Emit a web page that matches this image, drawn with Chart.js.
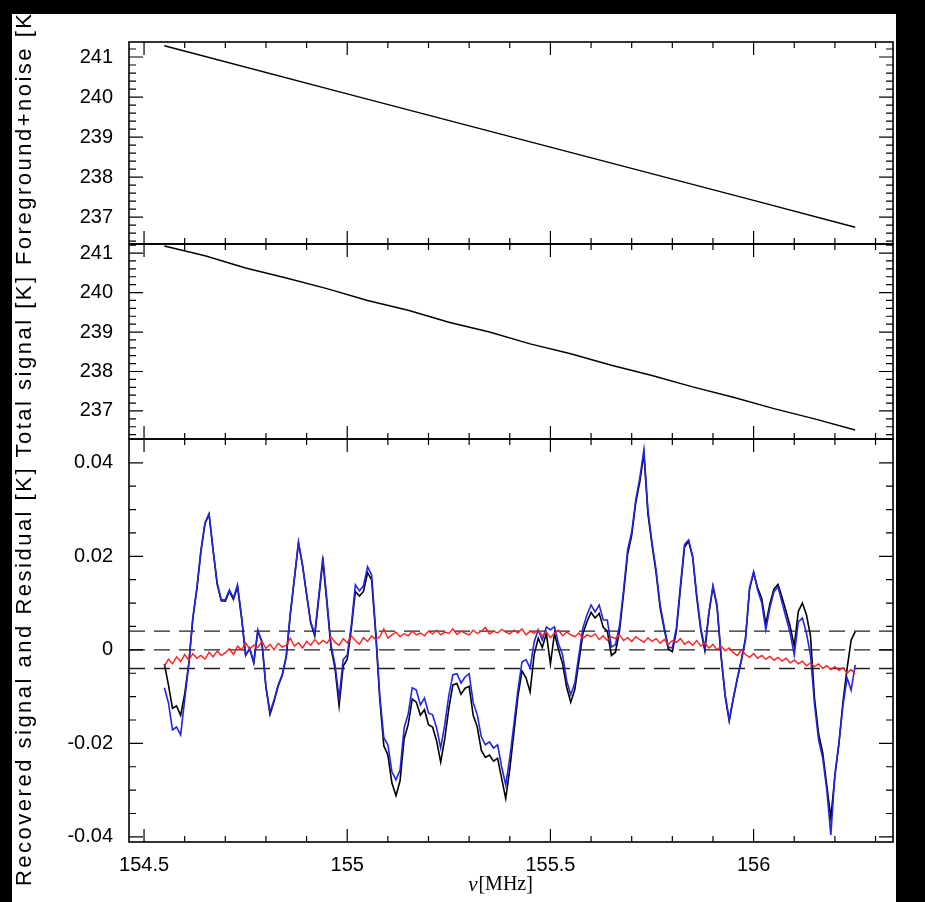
<!DOCTYPE html>
<html lang="en">
<head>
<meta charset="UTF-8" />
<title>Foreground, total signal and recovered signal</title>
<style>
  html, body { margin: 0; padding: 0; background: #000; }
  body { width: 925px; height: 902px; overflow: hidden; position: relative; }
  #sheet { position: absolute; left: 12px; top: 14px; width: 884px; height: 888px; background: #fff; }
  #sheet canvas { position: absolute; left: 0; top: 0; }
</style>
<script src="https://cdn.jsdelivr.net/npm/chart.js@4.4.1/dist/chart.umd.min.js"></script>
</head>
<body>
<div id="sheet">
  <canvas id="fgChart" width="884" height="888"></canvas>
  <canvas id="totChart" width="884" height="888"></canvas>
  <canvas id="recChart" width="884" height="888"></canvas>
</div>
<script>
// ---- data ----
const xRange = [154.463, 156.343];
const xTickLabels = [154.5, 155, 155.5, 156];

// top panel: foreground + noise [K]
const fgFreq = [154.55, 155.0, 155.5, 156.0, 156.25];
const fgTemp = [241.28, 240.08, 238.75, 237.42, 236.75];
const fgTicks = [237, 238, 239, 240, 241];

// middle panel: total signal [K]
const totFreq = [154.55, 154.65, 154.75, 154.85, 154.95, 155.05, 155.15, 155.25, 155.35,
  155.45, 155.55, 155.65, 155.75, 155.85, 155.95, 156.05, 156.15, 156.25];
const totTemp = [241.18, 240.93, 240.62, 240.37, 240.10, 239.80, 239.55, 239.25, 239.00,
  238.70, 238.45, 238.16, 237.90, 237.61, 237.35, 237.06, 236.80, 236.52];
const totTicks = [237, 238, 239, 240, 241];

// bottom panel: channels (MHz)
const chanFreq = [
  154.55, 154.56, 154.57, 154.58, 154.59, 154.60, 154.61, 154.62, 154.63, 154.64,
  154.65, 154.66, 154.67, 154.68, 154.69, 154.70, 154.71, 154.72, 154.73, 154.74,
  154.75, 154.76, 154.77, 154.78, 154.79, 154.80, 154.81, 154.82, 154.83, 154.84,
  154.85, 154.86, 154.87, 154.88, 154.89, 154.90, 154.91, 154.92, 154.93, 154.94,
  154.95, 154.96, 154.97, 154.98, 154.99, 155.00, 155.01, 155.02, 155.03, 155.04,
  155.05, 155.06, 155.07, 155.08, 155.09, 155.10, 155.11, 155.12, 155.13, 155.14,
  155.15, 155.16, 155.17, 155.18, 155.19, 155.20, 155.21, 155.22, 155.23, 155.24,
  155.25, 155.26, 155.27, 155.28, 155.29, 155.30, 155.31, 155.32, 155.33, 155.34,
  155.35, 155.36, 155.37, 155.38, 155.39, 155.40, 155.41, 155.42, 155.43, 155.44,
  155.45, 155.46, 155.47, 155.48, 155.49, 155.50, 155.51, 155.52, 155.53, 155.54,
  155.55, 155.56, 155.57, 155.58, 155.59, 155.60, 155.61, 155.62, 155.63, 155.64,
  155.65, 155.66, 155.67, 155.68, 155.69, 155.70, 155.71, 155.72, 155.73, 155.74,
  155.75, 155.76, 155.77, 155.78, 155.79, 155.80, 155.81, 155.82, 155.83, 155.84,
  155.85, 155.86, 155.87, 155.88, 155.89, 155.90, 155.91, 155.92, 155.93, 155.94,
  155.95, 155.96, 155.97, 155.98, 155.99, 156.00, 156.01, 156.02, 156.03, 156.04,
  156.05, 156.06, 156.07, 156.08, 156.09, 156.10, 156.11, 156.12, 156.13, 156.14,
  156.15, 156.16, 156.17, 156.18, 156.19, 156.20, 156.21, 156.22, 156.23, 156.24,
  156.25
];

// input signal (black)
const inputSignal = [
  -0.0030, -0.0075, -0.0125, -0.0120, -0.0140, -0.0095, -0.0030, 0.0066, 0.0130, 0.0210,
  0.0270, 0.0290, 0.0212, 0.0140, 0.0105, 0.0104, 0.0125, 0.0108, 0.0135, 0.0068,
  -0.0012, 0.0002, -0.0028, 0.0040, 0.0018, -0.0080, -0.0138, -0.0110, -0.0078, -0.0055,
  -0.0015, 0.0076, 0.0152, 0.0228, 0.0180, 0.0118, 0.0058, 0.0030, 0.0110, 0.0190,
  0.0100, 0.0005, -0.0040, -0.0120, -0.0035, -0.0020, 0.0045, 0.0125, 0.0115, 0.0125,
  0.0165, 0.0150, 0.0035, -0.0105, -0.0205, -0.0225, -0.0285, -0.0312, -0.0280, -0.0190,
  -0.0160, -0.0105, -0.0112, -0.0140, -0.0128, -0.0160, -0.0165, -0.0195, -0.0240, -0.0190,
  -0.0125, -0.0075, -0.0072, -0.0095, -0.0082, -0.0078, -0.0140, -0.0165, -0.0215, -0.0230,
  -0.0225, -0.0238, -0.0232, -0.0275, -0.0318, -0.0255, -0.0178, -0.0100, -0.0045, -0.0060,
  -0.0090, -0.0010, 0.0025, 0.0005, 0.0035, -0.0030, 0.0035, 0.0000, -0.0030, -0.0080,
  -0.0112, -0.0085, -0.0025, 0.0035, 0.0060, 0.0080, 0.0068, 0.0078, 0.0048, 0.0040,
  -0.0012, -0.0005, 0.0040, 0.0120, 0.0205, 0.0245, 0.0315, 0.0360, 0.0420, 0.0290,
  0.0225, 0.0165, 0.0090, 0.0045, 0.0002, -0.0004, 0.0040, 0.0132, 0.0220, 0.0232,
  0.0198, 0.0112, 0.0042, -0.0002, 0.0078, 0.0135, 0.0092, -0.0015, -0.0100, -0.0152,
  -0.0105, -0.0062, -0.0022, 0.0025, 0.0130, 0.0165, 0.0132, 0.0110, 0.0055, 0.0098,
  0.0130, 0.0140, 0.0112, 0.0082, 0.0050, 0.0008, 0.0082, 0.0100, 0.0075, 0.0030,
  -0.0105, -0.0180, -0.0220, -0.0290, -0.0360, -0.0270, -0.0200, -0.0110, -0.0040, 0.0021,
  0.0039
];

// recovered signal (blue)
const recovered = [
  -0.0081, -0.0113, -0.0171, -0.0165, -0.0182, -0.0107, -0.0032, 0.0068, 0.0133, 0.0214,
  0.0272, 0.0291, 0.0214, 0.0143, 0.0107, 0.0107, 0.0128, 0.0111, 0.0139, 0.0071,
  -0.0011, 0.0004, -0.0026, 0.0043, 0.0015, -0.0079, -0.0133, -0.0107, -0.0075, -0.0053,
  -0.0013, 0.0079, 0.0154, 0.0231, 0.0182, 0.0120, 0.0060, 0.0034, 0.0116, 0.0199,
  0.0107, 0.0011, -0.0032, -0.0103, -0.0021, -0.0011, 0.0053, 0.0139, 0.0126, 0.0137,
  0.0178, 0.0160, 0.0043, -0.0096, -0.0188, -0.0203, -0.0261, -0.0278, -0.0257, -0.0167,
  -0.0137, -0.0081, -0.0086, -0.0118, -0.0103, -0.0135, -0.0139, -0.0167, -0.0210, -0.0160,
  -0.0098, -0.0053, -0.0051, -0.0071, -0.0058, -0.0051, -0.0113, -0.0139, -0.0186, -0.0203,
  -0.0197, -0.0210, -0.0203, -0.0250, -0.0289, -0.0231, -0.0160, -0.0086, -0.0026, -0.0021,
  -0.0039, 0.0017, 0.0043, 0.0021, 0.0049, 0.0043, 0.0049, 0.0013, -0.0011, -0.0066,
  -0.0096, -0.0071, -0.0011, 0.0047, 0.0075, 0.0096, 0.0081, 0.0096, 0.0064, 0.0064,
  0.0006, 0.0011, 0.0051, 0.0128, 0.0214, 0.0252, 0.0321, 0.0368, 0.0428, 0.0299,
  0.0229, 0.0171, 0.0096, 0.0049, 0.0006, 0.0004, 0.0047, 0.0139, 0.0225, 0.0235,
  0.0201, 0.0118, 0.0047, 0.0004, 0.0081, 0.0137, 0.0096, -0.0011, -0.0096, -0.0150,
  -0.0103, -0.0060, -0.0021, 0.0021, 0.0133, 0.0167, 0.0128, 0.0101, 0.0043, 0.0090,
  0.0124, 0.0135, 0.0101, 0.0068, 0.0036, -0.0011, 0.0060, 0.0068, 0.0036, -0.0011,
  -0.0118, -0.0193, -0.0231, -0.0299, -0.0396, -0.0267, -0.0199, -0.0118, -0.0060, -0.0086,
  -0.0032
];

// residual (red)
const residual = [
  -0.0035, -0.0020, -0.0030, -0.0015, -0.0025, -0.0010, -0.0022, -0.0008, -0.0018, -0.0012,
  -0.0020, -0.0005, -0.0015, -0.0002, -0.0012, -0.0006, 0.0002, -0.0010, 0.0008, 0.0000,
  0.0015, 0.0002, 0.0010, 0.0005, 0.0018, 0.0003, 0.0012, 0.0000, 0.0014, 0.0006,
  0.0010, 0.0025, 0.0008, 0.0015, 0.0004, 0.0018, 0.0010, 0.0022, 0.0012, 0.0020,
  0.0014, 0.0028, 0.0016, 0.0010, 0.0024, 0.0015, 0.0030, 0.0020, 0.0012, 0.0026,
  0.0018, 0.0030, 0.0022, 0.0028, 0.0045, 0.0025, 0.0032, 0.0038, 0.0028, 0.0035,
  0.0030, 0.0040, 0.0032, 0.0036, 0.0030, 0.0040, 0.0034, 0.0042, 0.0032, 0.0038,
  0.0035, 0.0045, 0.0033, 0.0040, 0.0036, 0.0032, 0.0042, 0.0035, 0.0040, 0.0048,
  0.0034, 0.0040, 0.0036, 0.0044, 0.0038, 0.0034, 0.0042, 0.0036, 0.0045, 0.0032,
  0.0040, 0.0035, 0.0043, 0.0030, 0.0038, 0.0026, 0.0036, 0.0042, 0.0030, 0.0038,
  0.0032, 0.0028, 0.0036, 0.0025, 0.0032, 0.0028, 0.0034, 0.0022, 0.0030, 0.0020,
  0.0028, 0.0024, 0.0032, 0.0020, 0.0026, 0.0018, 0.0028, 0.0022, 0.0016, 0.0026,
  0.0018, 0.0024, 0.0014, 0.0022, 0.0012, 0.0020, 0.0016, 0.0024, 0.0012, 0.0018,
  0.0010, 0.0020, 0.0008, 0.0014, 0.0004, 0.0012, 0.0000, 0.0008, -0.0002, 0.0004,
  -0.0006, -0.0012, 0.0000, -0.0010, -0.0016, -0.0008, -0.0018, -0.0012, -0.0020, -0.0014,
  -0.0022, -0.0016, -0.0024, -0.0018, -0.0028, -0.0022, -0.0030, -0.0024, -0.0034, -0.0028,
  -0.0036, -0.0030, -0.0040, -0.0034, -0.0042, -0.0036, -0.0044, -0.0038, -0.0050, -0.0042,
  -0.0052
];

// horizontal dashed reference levels [K]
const bandLevels = [-0.004, 0, 0.004];
const recTicks = [-0.04, -0.02, 0, 0.02, 0.04];

// ---- drawing ----
const TICK_FONT = { family: "'Liberation Sans', Arial, sans-serif", size: 20 };

function toPoints(xs, ys) {
  return xs.map((x, i) => ({ x: x, y: ys[i] }));
}

// inward PGPLOT-style ticks on all four sides, plus frame and titles
const framePlugin = {
  id: 'frameTicks',
  afterDraw(chart, args, opts) {
    const ctx = chart.ctx;
    const a = chart.chartArea;
    const xs = chart.scales.x;
    const ys = chart.scales.y;
    ctx.save();
    ctx.strokeStyle = '#000';
    ctx.lineWidth = 1.2;

    function eachTick(min, max, step, major, fn) {
      const k0 = Math.ceil(min / step - 1e-6);
      const k1 = Math.floor(max / step + 1e-6);
      for (let k = k0; k <= k1; k++) {
        const v = k * step;
        const r = v / major;
        fn(v, Math.abs(r - Math.round(r)) < 1e-6);
      }
    }

    ctx.beginPath();
    eachTick(xs.min, xs.max, 0.1, 0.5, (v, isMajor) => {
      const px = xs.getPixelForValue(v);
      const len = isMajor ? 13 : 6;
      ctx.moveTo(px, a.top); ctx.lineTo(px, a.top + len);
      ctx.moveTo(px, a.bottom); ctx.lineTo(px, a.bottom - len);
    });
    eachTick(ys.min, ys.max, opts.yMinor, opts.yMajor, (v, isMajor) => {
      const py = ys.getPixelForValue(v);
      const len = isMajor ? 14 : 7;
      ctx.moveTo(a.left, py); ctx.lineTo(a.left + len, py);
      ctx.moveTo(a.right, py); ctx.lineTo(a.right - len, py);
    });
    ctx.stroke();

    ctx.lineWidth = 1.6;
    ctx.strokeRect(a.left, a.top, a.right - a.left, a.bottom - a.top);

    // rotated y title
    ctx.translate(opts.titleX, opts.titleY);
    ctx.rotate(-Math.PI / 2);
    ctx.fillStyle = '#000';
    ctx.font = "22px 'Liberation Sans', Arial, sans-serif";
    ctx.letterSpacing = '2.5px';
    ctx.textAlign = 'center';
    ctx.textBaseline = 'middle';
    ctx.fillText(opts.title, 0, 0);
    ctx.restore();

    if (opts.xTitle) {
      ctx.save();
      ctx.fillStyle = '#000';
      ctx.textBaseline = 'middle';
      const nu = 'ν';
      const rest = '[MHz]';
      ctx.font = "italic 21px 'Liberation Serif', 'Times New Roman', serif";
      const w1 = ctx.measureText(nu).width;
      ctx.font = "20px 'Liberation Serif', 'Times New Roman', serif";
      const w2 = ctx.measureText(rest).width;
      const x0 = opts.xTitleX - (w1 + w2) / 2;
      ctx.font = "italic 21px 'Liberation Serif', 'Times New Roman', serif";
      ctx.fillText(nu, x0, opts.xTitleY);
      ctx.font = "20px 'Liberation Serif', 'Times New Roman', serif";
      ctx.fillText(rest, x0 + w1 + 1, opts.xTitleY);
      ctx.restore();
    }
  }
};

function makePanel(id, p) {
  return new Chart(document.getElementById(id), {
    type: 'line',
    data: { datasets: p.datasets },
    options: {
      responsive: false,
      animation: false,
      devicePixelRatio: 1,
      layout: { padding: { left: 0, right: 3, top: p.top, bottom: p.bottom } },
      plugins: {
        legend: { display: false },
        tooltip: { enabled: false },
        frameTicks: p.frame
      },
      elements: { point: { radius: 0 }, line: { tension: 0 } },
      scales: {
        x: {
          type: 'linear',
          min: xRange[0],
          max: xRange[1],
          display: p.showX,
          grid: { display: false, drawTicks: false },
          border: { display: false },
          afterBuildTicks: s => { s.ticks = xTickLabels.map(v => ({ value: v })); },
          afterFit: s => { s.height = p.showX ? 60 : 0; },
          ticks: {
            font: TICK_FONT, color: '#000', padding: 11,
            maxRotation: 0, autoSkip: false,
            callback: v => String(v)
          }
        },
        y: {
          type: 'linear',
          min: p.yRange[0],
          max: p.yRange[1],
          grid: { display: false, drawTicks: false },
          border: { display: false },
          afterBuildTicks: s => { s.ticks = p.yTicks.map(v => ({ value: v })); },
          afterFit: s => { s.width = 117; },
          ticks: {
            font: TICK_FONT, color: '#000', padding: 16,
            autoSkip: false,
            callback: v => String(v)
          }
        }
      }
    },
    plugins: [framePlugin]
  });
}

makePanel('fgChart', {
  top: 28, bottom: 888 - 230, showX: false,
  yRange: [236.33, 241.375], yTicks: fgTicks,
  frame: { yMinor: 0.2, yMajor: 1, title: 'Foreground+noise [K]', titleX: 13, titleY: 120 },
  datasets: [{
    data: toPoints(fgFreq, fgTemp),
    borderColor: '#000', borderWidth: 1.5
  }]
});

makePanel('totChart', {
  top: 230, bottom: 888 - 425, showX: false,
  yRange: [236.29, 241.23], yTicks: totTicks,
  frame: { yMinor: 0.2, yMajor: 1, title: 'Total signal [K]', titleX: 13, titleY: 352 },
  datasets: [{
    data: toPoints(totFreq, totTemp),
    borderColor: '#000', borderWidth: 1.5
  }]
});

makePanel('recChart', {
  top: 425, bottom: 0, showX: true,
  yRange: [-0.0411, 0.0451], yTicks: recTicks,
  frame: {
    yMinor: 0.005, yMajor: 0.02, title: 'Recovered signal and Residual [K]', titleX: 13, titleY: 662,
    xTitle: true, xTitleX: 488, xTitleY: 871
  },
  datasets: [
    {
      data: toPoints(chanFreq, residual),
      borderColor: '#ff1f1f', borderWidth: 1.4, order: 0
    },
    {
      data: toPoints(chanFreq, recovered),
      borderColor: '#2424e6', borderWidth: 1.6, order: 1
    },
    {
      data: toPoints(chanFreq, inputSignal),
      borderColor: '#000', borderWidth: 1.6, order: 2
    },
    ...bandLevels.map(lv => ({
      data: toPoints(xRange, [lv, lv]),
      borderColor: '#222', borderWidth: 1.4, borderDash: [16, 9], order: 3
    }))
  ]
});
</script>
</body>
</html>
